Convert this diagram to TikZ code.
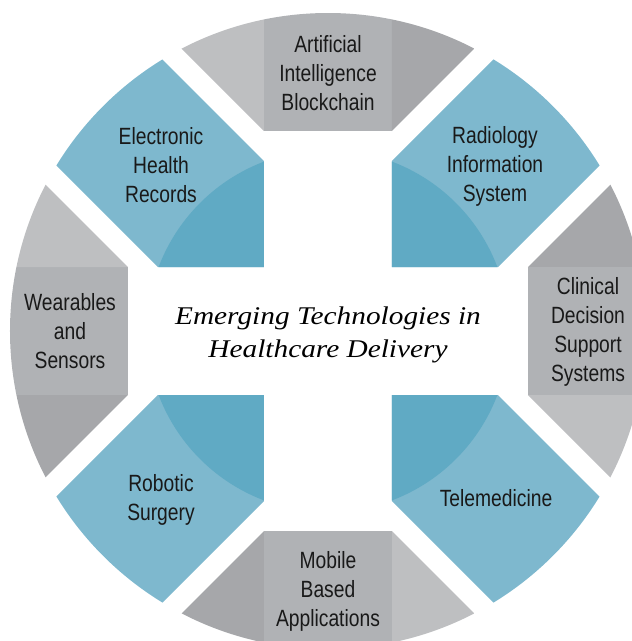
\documentclass[tikz,border=0pt]{standalone}
\usepackage{fontspec}
\setmainfont{Liberation Sans}
\newfontfamily\labelfont[FakeStretch=0.82]{Liberation Sans}
\newfontfamily\titlefont[FakeStretch=1.15]{Liberation Serif}
\definecolor{gl}{RGB}{190,191,193}
\definecolor{gm}{RGB}{176,178,181}
\definecolor{gd}{RGB}{166,167,170}
\definecolor{bl}{RGB}{126,184,206}
\definecolor{bd}{RGB}{96,170,196}
\definecolor{labeltext}{RGB}{25,25,25}
\tikzset{
  lbl/.style={font=\labelfont\fontsize{23.5}{29}\selectfont, align=center, text=labeltext, inner sep=0pt},
  ttl/.style={font=\titlefont\itshape\fontsize{25.5}{33}\selectfont, align=center, text=black, inner sep=0pt}
}
\begin{document}
\begin{tikzpicture}[x=1pt,y=1pt]
\useasboundingbox (-328,-310) rectangle (304,331);
\begin{scope}
  \clip (0,0) circle (318pt);
  \foreach \r/\cl/\cr in {0/gl/gd, -90/gd/gl, 180/gl/gd, 90/gd/gl} {
    \begin{scope}[rotate=\r]
      \fill[\cl] (-64,200) -- (-64,400) -- (-264,400) -- cycle;
      \fill[gm] (-64,200) rectangle (64,400);
      \fill[\cr] (64,200) -- (64,400) -- (264,400) -- cycle;
    \end{scope}
  }
  \foreach \r in {0,-90,180,90} {
    \begin{scope}[rotate=\r]
      \fill[bl] (-64,64) -- (-64,170) -- (-400,506) -- (-506,400) -- (-170,64) -- cycle;
      \begin{scope}
        \clip (0,0) circle (181pt);
        \fill[bd] (-64,64) -- (-64,170) -- (-400,506) -- (-506,400) -- (-170,64) -- cycle;
      \end{scope}
    \end{scope}
  }
\end{scope}
\node[lbl] (ai) at (0,258) {Artificial\\Intelligence\\Blockchain};
\node[lbl] (ehr) at (-167,166) {Electronic\\Health\\Records};
\node[lbl] (ris) at (167,165) {Radiology\\Information\\System};
\node[lbl] (wear) at (-258,0) {Wearables\\and\\Sensors};
\node[lbl] (cdss) at (260,-1) {Clinical\\Decision\\Support\\Systems};
\node[lbl] (robot) at (-167,-169) {Robotic\\Surgery};
\node[lbl] (tele) at (168,-167) {Telemedicine};
\node[lbl] (mobile) at (0,-260) {Mobile\\Based\\Applications};
\node[ttl] (title) at (0,-4) {Emerging Technologies in\\Healthcare Delivery};
\end{tikzpicture}
\end{document}
